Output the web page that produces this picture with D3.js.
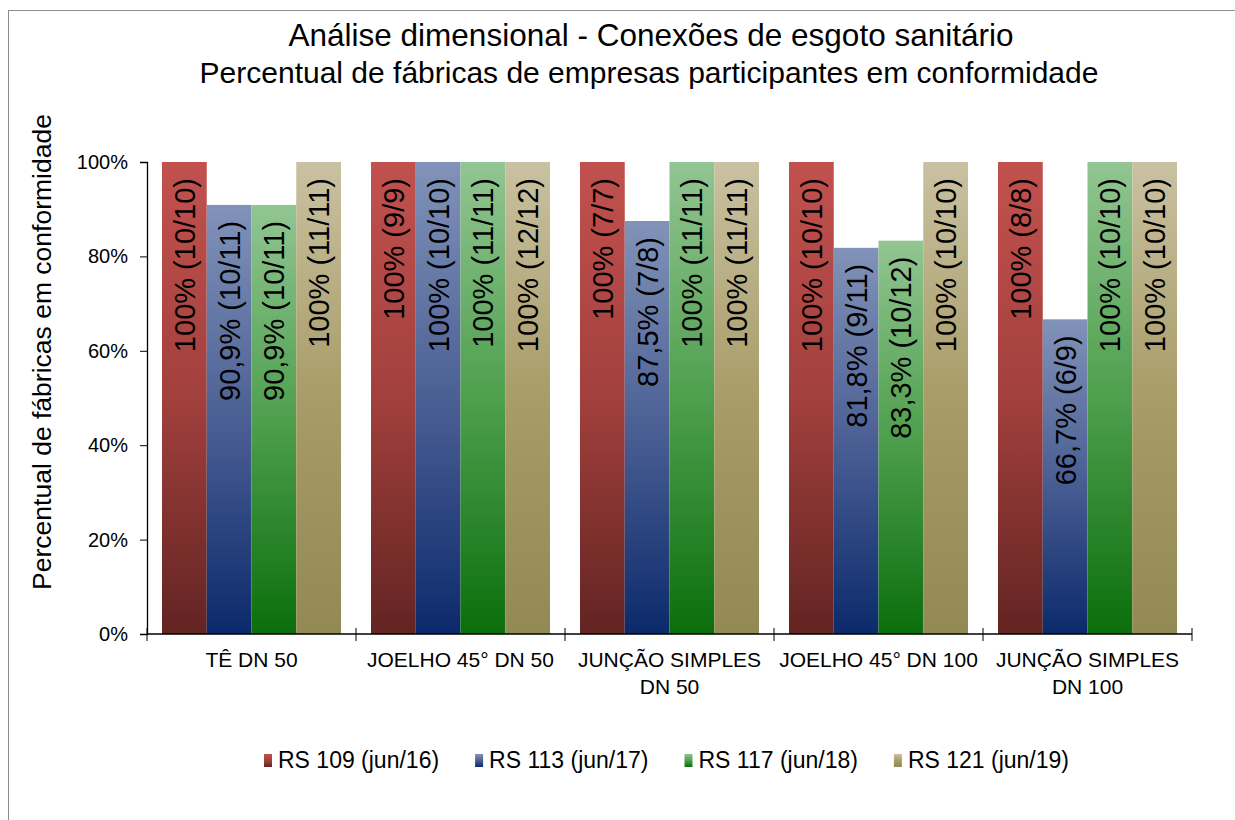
<!DOCTYPE html>
<html>
<head>
<meta charset="utf-8">
<script src="https://cdn.jsdelivr.net/npm/d3@7"></script>
<style>
  body { margin: 0; background: #fff; }
  svg { display: block; font-family: "Liberation Sans", Arial, sans-serif; }
</style>
</head>
<body>
<div id="chart"></div>
<script>
// categorias (quebra de linha como no original)
var categories = ['TÊ DN 50', 'JOELHO 45° DN 50', 'JUNÇÃO SIMPLES DN 50', 'JOELHO 45° DN 100', 'JUNÇÃO SIMPLES DN 100']
var categoryLines = [['TÊ DN 50'], ['JOELHO 45° DN 50'], ['JUNÇÃO SIMPLES', 'DN 50'], ['JOELHO 45° DN 100'], ['JUNÇÃO SIMPLES', 'DN 100']]
var series = ['RS 109 (jun/16)', 'RS 113 (jun/17)', 'RS 117 (jun/18)', 'RS 121 (jun/19)']

// fábricas em conformidade / fábricas avaliadas
var rs109Ok = [10, 9, 7, 10, 8]
var rs109Total = [10, 9, 7, 10, 8]
var rs113Ok = [10, 10, 7, 9, 6]
var rs113Total = [11, 10, 8, 11, 9]
var rs117Ok = [10, 11, 11, 10, 10]
var rs117Total = [11, 11, 11, 12, 10]
var rs121Ok = [11, 12, 11, 10, 10]
var rs121Total = [11, 12, 11, 10, 10]

var yTicks = [0, 0.2, 0.4, 0.6, 0.8, 1]

// cores: topo, meio, base
var palette = [
  ['#c2514e', '#a2403d', '#622422'],
  ['#8193b8', '#4b5f94', '#0b2a6b'],
  ['#92c592', '#4e9f4e', '#0b6e0b'],
  ['#c9c1a1', '#a89c68', '#928954']
]

var okBySeries = [rs109Ok, rs113Ok, rs117Ok, rs121Ok]
var totalBySeries = [rs109Total, rs113Total, rs117Total, rs121Total]

var WIDTH = 1235
var HEIGHT = 820
var margin = { left: 147, right: 43, top: 162, bottom: 186 }

var svg = d3.select('#chart').append('svg')
  .attr('width', WIDTH)
  .attr('height', HEIGHT)

var defs = svg.append('defs')
palette.forEach(function (c, i) {
  var g = defs.append('linearGradient')
    .attr('id', 'grad' + i)
    .attr('x1', '0%').attr('y1', '0%').attr('x2', '0%').attr('y2', '100%')
  g.append('stop').attr('offset', '0%').attr('stop-color', c[0])
  g.append('stop').attr('offset', '50%').attr('stop-color', c[1])
  g.append('stop').attr('offset', '100%').attr('stop-color', c[2])
})

// moldura
svg.append('rect')
  .attr('x', 8.5).attr('y', 10.5)
  .attr('width', WIDTH + 20).attr('height', HEIGHT + 20)
  .attr('fill', 'none')
  .attr('stroke', '#8c8c8c')

// título
var title = svg.append('text')
  .attr('text-anchor', 'middle')
  .attr('fill', '#000')
title.append('tspan').attr('x', 651).attr('y', 46).attr('font-size', 31.5).text('Análise dimensional - Conexões de esgoto sanitário')
title.append('tspan').attr('x', 649).attr('y', 83).attr('font-size', 30).text('Percentual de fábricas de empresas participantes em conformidade')

var x0 = d3.scaleBand()
  .domain(categories)
  .range([margin.left, WIDTH - margin.right])

var x1 = d3.scaleBand()
  .domain(series)
  .range([15, x0.bandwidth() - 15])

var y = d3.scaleLinear()
  .domain([0, 1])
  .range([HEIGHT - margin.bottom, margin.top])

// dados achatados
var rows = []
categories.forEach(function (cat, ci) {
  series.forEach(function (s, si) {
    var ok = okBySeries[si][ci]
    var tot = totalBySeries[si][ci]
    rows.push({ cat: cat, serie: s, si: si, ok: ok, tot: tot, v: ok / tot })
  })
})

function fmt (v) {
  if (v === 1) return '100%'
  return d3.format('.1f')(v * 100).replace('.', ',') + '%'
}

// barras
svg.append('g')
  .selectAll('rect')
  .data(rows)
  .enter()
  .append('rect')
  .attr('x', d => x0(d.cat) + x1(d.serie))
  .attr('y', d => y(d.v))
  .attr('width', x1.bandwidth())
  .attr('height', d => y(0) - y(d.v))
  .attr('fill', d => 'url(#grad' + d.si + ')')

// rótulos das barras
svg.append('g')
  .selectAll('text')
  .data(rows)
  .enter()
  .append('text')
  .attr('transform', function (d) {
    var cx = x0(d.cat) + x1(d.serie) + x1.bandwidth() / 2
    return 'translate(' + cx + ',' + (y(d.v) + 16) + ') rotate(-90)'
  })
  .attr('text-anchor', 'end')
  .attr('dy', '0.36em')
  .attr('font-size', 29)
  .attr('fill', '#000')
  .text(d => fmt(d.v) + ' (' + d.ok + '/' + d.tot + ')')

// eixo y
var yAxis = svg.append('g')
  .attr('transform', 'translate(' + margin.left + ',0)')
  .call(d3.axisLeft(y).tickValues(yTicks).tickSize(7).tickPadding(12).tickFormat(d3.format('.0%')))
yAxis.select('.domain').attr('stroke', '#000').attr('stroke-width', 1.3)
yAxis.selectAll('.tick line').attr('stroke', '#000')
yAxis.selectAll('text').attr('font-size', 20).attr('fill', '#000').attr('font-family', '"Liberation Sans", Arial, sans-serif')

// eixo x
var xb = y(0)
svg.append('line')
  .attr('x1', margin.left).attr('x2', WIDTH - margin.right)
  .attr('y1', xb).attr('y2', xb)
  .attr('stroke', '#000').attr('stroke-width', 1.5)
var bounds = categories.map(c => x0(c)).concat([x0.range()[1]])
svg.append('g')
  .selectAll('line')
  .data(bounds)
  .enter()
  .append('line')
  .attr('x1', d => d).attr('x2', d => d)
  .attr('y1', xb - 6).attr('y2', xb + 7)
  .attr('stroke', '#000')

var xl = svg.append('g')
  .selectAll('text')
  .data(categories)
  .enter()
  .append('text')
  .attr('text-anchor', 'middle')
  .attr('font-size', 21)
  .attr('fill', '#000')
xl.each(function (c, i) {
  var t = d3.select(this)
  categoryLines[i].forEach(function (line, li) {
    t.append('tspan')
      .attr('x', x0(c) + x0.bandwidth() / 2)
      .attr('y', 667 + li * 27)
      .text(line)
  })
})

// título do eixo y
svg.append('text')
  .attr('transform', 'translate(51,352) rotate(-90)')
  .attr('text-anchor', 'middle')
  .attr('font-size', 26.5)
  .attr('fill', '#000')
  .text('Percentual de fábricas em conformidade')

// legenda
var legend = svg.append('g')
var lx = 264
series.forEach(function (s, i) {
  var item = legend.append('g').attr('transform', 'translate(' + lx + ',760)')
  item.append('rect')
    .attr('x', 0).attr('y', -6)
    .attr('width', 8).attr('height', 13)
    .attr('fill', 'url(#grad' + i + ')')
  var t = item.append('text')
    .attr('x', 14)
    .attr('dy', '0.36em')
    .attr('font-size', 23)
    .attr('fill', '#000')
    .text(s)
  lx += 14 + t.node().getComputedTextLength() + 36
})
</script>
</body>
</html>
